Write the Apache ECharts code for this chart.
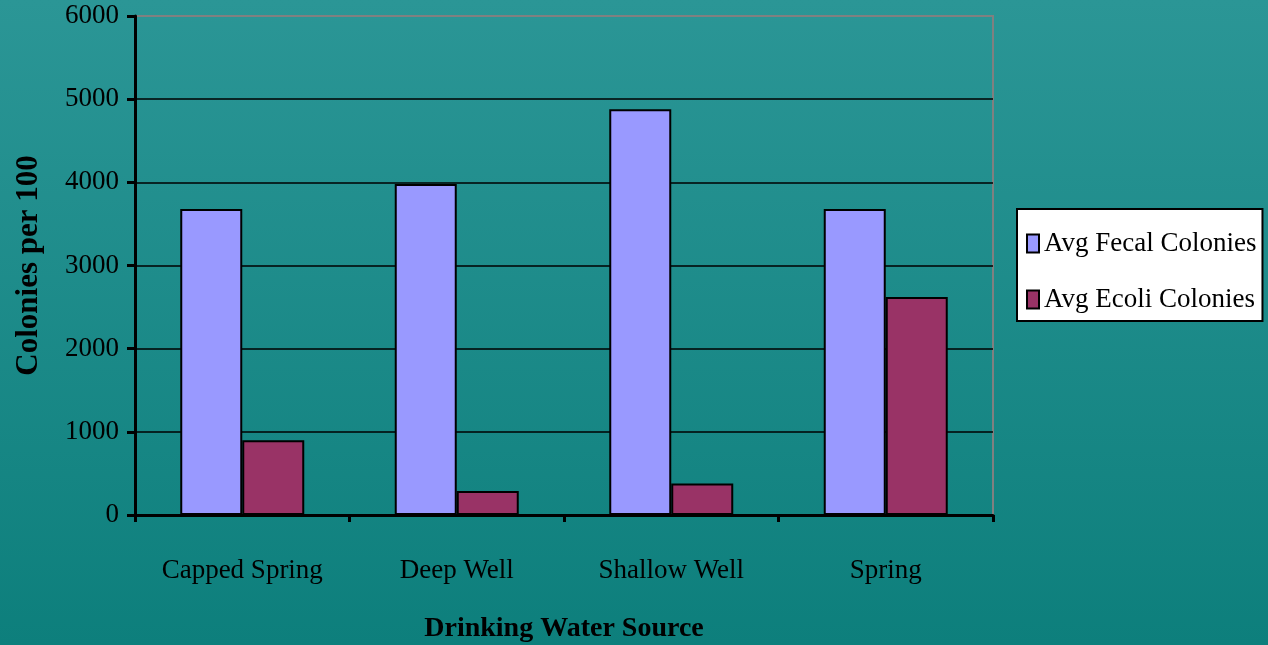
<!DOCTYPE html>
<html>
<head>
<meta charset="utf-8">
<script src="https://cdn.jsdelivr.net/npm/echarts@6/dist/echarts.min.js"></script>
<style>
  html, body { margin: 0; padding: 0; }
  #chart { width: 1268px; height: 645px; }
</style>
</head>
<body>
<div id="chart"></div>
<script>
let myChart = echarts.init(document.getElementById('chart'));

// data
const sources = ['Capped Spring', 'Deep Well', 'Shallow Well', 'Spring'];
const fecal = [3680, 3980, 4880, 3680];
const ecoli = [900, 290, 380, 2620];
const yTicks = [0, 1000, 2000, 3000, 4000, 5000, 6000];

const serif = '"Liberation Serif", "DejaVu Serif", serif';

option = {
  backgroundColor: new echarts.graphic.LinearGradient(0, 0, 0, 1, [
    { offset: 0, color: '#2b9696' },
    { offset: 1, color: '#0d7f7c' }
  ]),
  textStyle: { fontFamily: serif },
  legend: {
    orient: 'vertical',
    left: 1017,
    top: 209,
    padding: [21, 6, 8, 9],
    itemGap: 29,
    itemWidth: 12,
    itemHeight: 18,
    backgroundColor: '#ffffff',
    borderColor: '#000',
    borderWidth: 2,
    textStyle: { fontFamily: serif, fontSize: 27, color: '#000', letterSpacing: -1.3 },
    data: [
      { name: 'Avg Fecal Colonies', icon: 'rect' },
      { name: 'Avg Ecoli Colonies', icon: 'rect' }
    ]
  },
  grid: {
    left: 135,
    right: 275,
    top: 16,
    bottom: 130,
    outerBoundsMode: 'none',
    show: true,
    borderColor: '#808080',
    borderWidth: 2
  },
  xAxis: {
    type: 'category',
    data: sources,
    name: 'Drinking Water Source',
    nameLocation: 'middle',
    nameGap: 100,
    nameTextStyle: { fontFamily: serif, fontSize: 28, fontWeight: 'bold', color: '#000', letterSpacing: -1.5 },
    axisLine: { show: true, lineStyle: { color: '#000', width: 3 } },
    axisTick: { show: true, alignWithLabel: false, length: 7, lineStyle: { color: '#000', width: 3 } },
    axisLabel: { color: '#000', fontSize: 27, margin: 42, letterSpacing: -1.6 }
  },
  yAxis: {
    type: 'value',
    min: 0,
    max: 6000,
    interval: 1000,
    name: 'Colonies per 100',
    nameLocation: 'middle',
    nameGap: 91,
    nameTextStyle: { fontFamily: serif, fontSize: 31, fontWeight: 'bold', color: '#000' },
    axisLine: { show: true, lineStyle: { color: '#000', width: 3 } },
    axisTick: { show: true, length: 8, lineStyle: { color: '#000', width: 3 } },
    axisLabel: {
      color: '#000', fontSize: 27, margin: 16, letterSpacing: -1.5,
      formatter: function (v) { return yTicks.indexOf(v) != -1 ? String(v) : ''; }
    },
    splitLine: {
      show: true,
      lineStyle: { color: ['#000', '#000', '#000', '#000', '#000', '#000', '#808080'], width: 1.5 }
    }
  },
  series: [
    {
      name: 'Avg Fecal Colonies',
      type: 'bar',
      data: fecal,
      barWidth: 62,
      barGap: '0%',
      itemStyle: { color: '#9999ff', borderColor: '#000', borderWidth: 2 }
    },
    {
      name: 'Avg Ecoli Colonies',
      type: 'bar',
      data: ecoli,
      barWidth: 62,
      barGap: '0%',
      itemStyle: { color: '#993366', borderColor: '#000', borderWidth: 2 }
    }
  ]
};

myChart.setOption(option);
</script>
</body>
</html>
